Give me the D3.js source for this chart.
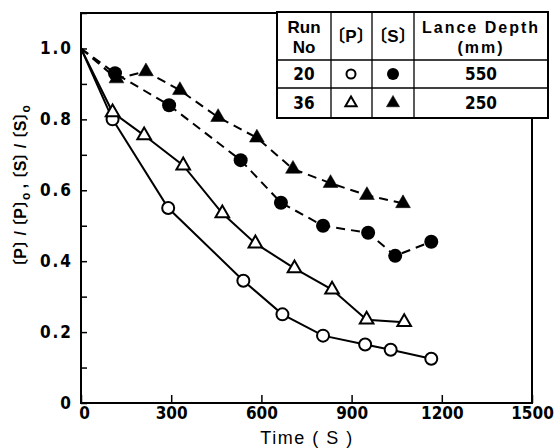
<!DOCTYPE html>
<html>
<head>
<meta charset="utf-8">
<script src="https://cdn.jsdelivr.net/npm/d3@7"></script>
<style>
  body { margin: 0; background: #fff; }
  svg text { fill: #000; }
  .br { font-family: "Noto Sans CJK JP", sans-serif; font-feature-settings: "halt" 1; }
</style>
</head>
<body>
<svg id="chart" width="555" height="448"></svg>
<script>
// time (s), relative concentration
var p20 = [[0, 1.0], [105, 0.80], [290, 0.55], [540, 0.345], [670, 0.25], [805, 0.19], [945, 0.165], [1030, 0.15], [1165, 0.125]]
var p36 = [[0, 1.0], [105, 0.82], [210, 0.755], [340, 0.67], [470, 0.535], [580, 0.45], [710, 0.38], [835, 0.32], [950, 0.235], [1075, 0.228]]
var s20 = [[0, 1.0], [113, 0.93], [293, 0.84], [531, 0.685], [665, 0.565], [805, 0.50], [955, 0.48], [1045, 0.415], [1165, 0.455]]
var s36 = [[0, 1.0], [118, 0.915], [216, 0.935], [329, 0.882], [456, 0.806], [585, 0.748], [705, 0.66], [830, 0.62], [951, 0.586], [1071, 0.563]]

var xTicks = [0, 300, 600, 900, 1200, 1500]
var yTicks = [0, 0.1, 0.2, 0.3, 0.4, 0.5, 0.6, 0.7, 0.8, 0.9, 1.0, 1.1]
var yLabels = { "0": "0", "0.2": "0.2", "0.4": "0.4", "0.6": "0.6", "0.8": "0.8", "1": "1.0" }

var runs = ["20", "36"]
var depths = ["550", "250"]

var svg = d3.select("#chart")
var numFont = '"Liberation Sans Narrow", "DejaVu Sans Condensed", "Liberation Sans", sans-serif'
var txtFont = '"Liberation Sans", Arial, sans-serif'

var x = d3.scaleLinear().domain([0, 1500]).range([81, 532])
var y = d3.scaleLinear().domain([0, 1.1]).range([403, 13])

// x axis, ticks point inward
var xAxis = svg.append("g")
    .attr("transform", "translate(0," + y(0) + ")")
    .call(d3.axisBottom(x).tickValues(xTicks).tickSize(-8).tickPadding(4).tickFormat(d3.format("d")))
xAxis.select(".domain").remove()
xAxis.selectAll("line").attr("stroke-width", 1.5)
xAxis.selectAll("text")
    .attr("dx", function(d) { return d == 0 ? 3 : 0 })
    .style("font-family", numFont)
    .style("font-weight", "bold")
    .style("font-size", "17px")

var yAxis = svg.append("g")
    .attr("transform", "translate(" + x(0) + ",0)")
    .call(d3.axisLeft(y).tickValues(yTicks).tickSize(-6).tickPadding(8)
        .tickFormat(function(d) { var k = String(+d.toFixed(1)); return yLabels[k] || "" }))
yAxis.select(".domain").remove()
yAxis.selectAll("line").attr("stroke-width", 1.5)
yAxis.selectAll("text")
    .style("font-family", numFont)
    .style("font-weight", "bold")
    .style("font-size", "17px")
    .style("letter-spacing", "2px")

// frame (top and right partly hidden by the table)
var frame = d3.path()
frame.moveTo(277, y(1.1)); frame.lineTo(x(0), y(1.1)); frame.lineTo(x(0), y(0)); frame.lineTo(x(1500), y(0)); frame.lineTo(x(1500), 118)
svg.append("path").attr("d", frame.toString()).attr("fill", "none").attr("stroke", "#000").attr("stroke-width", 2)

// lines
var line = d3.line().x(function(d) { return x(d[0]) }).y(function(d) { return y(d[1]) })
var series = [
    { data: p20, dash: null, shape: "circle", fill: "#fff" },
    { data: p36, dash: null, shape: "triangle", fill: "#fff" },
    { data: s20, dash: "9,6", shape: "circle", fill: "#000" },
    { data: s36, dash: "9,6", shape: "triangle", fill: "#000" }
]
series.forEach(function(s) {
    svg.append("path")
        .datum(s.data)
        .attr("d", line)
        .attr("fill", "none")
        .attr("stroke", "#000")
        .attr("stroke-width", 2)
        .attr("stroke-dasharray", s.dash)
})

function marker(g, shape, fill, big) {
    if (shape == "circle") {
        g.append("circle")
            .attr("r", fill == "#000" ? (big ? 7 : 6) : (big ? 6 : 4.5))
            .attr("fill", fill)
            .attr("stroke", "#000")
            .attr("stroke-width", fill == "#000" ? 0 : 2)
    } else {
        g.append("path")
            .attr("d", d3.symbol().type(d3.symbolTriangle).size(fill == "#000" ? (big ? 95 : 75) : (big ? 80 : 55)))
            .attr("fill", fill)
            .attr("stroke", "#000")
            .attr("stroke-width", fill == "#000" ? 0.5 : 2)
    }
}

series.forEach(function(s) {
    svg.selectAll(null)
        .data(s.data.slice(1))
        .enter().append("g")
        .attr("transform", function(d) { return "translate(" + x(d[0]) + "," + y(d[1]) + ")" })
        .each(function() { marker(d3.select(this), s.shape, s.fill, true) })
})

// axis titles
svg.append("text")
    .attr("x", 307).attr("y", 444)
    .attr("text-anchor", "middle")
    .style("font-family", txtFont)
    .style("font-size", "18px")
    .style("letter-spacing", "1.5px")
    .text("Time ( S )")

var yt = svg.append("text")
    .attr("transform", "translate(26,186) rotate(-90)")
    .attr("text-anchor", "middle")
    .style("font-family", txtFont)
    .style("font-size", "16px")
    .style("font-weight", "bold")
function bracket(t, letter) {
    t.append("tspan").attr("class", "br").text("〔")
    t.append("tspan").text(letter)
    t.append("tspan").attr("class", "br").text("〕")
}
bracket(yt, "P"); yt.append("tspan").text(" / "); bracket(yt, "P")
yt.append("tspan").attr("dy", 4).style("font-size", "12px").text("o")
yt.append("tspan").attr("dy", -4).text(" , ")
bracket(yt, "S"); yt.append("tspan").text(" / "); bracket(yt, "S")
yt.append("tspan").attr("dy", 4).style("font-size", "12px").text("o")

// table legend
var tbl = svg.append("g")
var cols = [277, 331, 372, 414, 548]
var rows = [12, 60, 88, 118]
tbl.append("rect").attr("x", cols[0]).attr("y", rows[0]).attr("width", cols[4] - cols[0]).attr("height", rows[3] - rows[0])
    .attr("fill", "#fff").attr("stroke", "#000").attr("stroke-width", 2)
cols.slice(1, 4).forEach(function(c) {
    tbl.append("line").attr("x1", c).attr("x2", c).attr("y1", rows[0]).attr("y2", rows[3]).attr("stroke", "#000").attr("stroke-width", 1.3)
})
rows.slice(1, 3).forEach(function(r) {
    tbl.append("line").attr("x1", cols[0]).attr("x2", cols[4]).attr("y1", r).attr("y2", r).attr("stroke", "#000").attr("stroke-width", 1.3)
})
function cell(cx, cy, txt, font, size, weight) {
    return tbl.append("text").attr("x", cx).attr("y", cy).attr("text-anchor", "middle")
        .style("font-family", font).style("font-size", size).style("font-weight", weight).text(txt)
}
cell(304, 33, "Run", txtFont, "17px", "bold")
cell(304, 53, "No", txtFont, "17px", "bold")
var hp = tbl.append("text").attr("x", 351).attr("y", 42).attr("text-anchor", "middle").style("font-family", txtFont).style("font-size", "17px").style("font-weight", "bold")
bracket(hp, "P")
var hs = tbl.append("text").attr("x", 393).attr("y", 42).attr("text-anchor", "middle").style("font-family", txtFont).style("font-size", "17px").style("font-weight", "bold")
bracket(hs, "S")
cell(481, 33, "Lance Depth", txtFont, "16px", "bold").style("letter-spacing", "2px")
cell(481, 53, "(mm)", txtFont, "16px", "bold").style("letter-spacing", "2px")
runs.forEach(function(r, i) {
    var cy = (rows[i + 1] + rows[i + 2]) / 2
    cell(304, cy + 6, r, numFont, "17px", "bold")
    cell(481, cy + 6, depths[i], numFont, "17px", "bold")
    var sh = i == 0 ? "circle" : "triangle"
    marker(tbl.append("g").attr("transform", "translate(351," + cy + ")"), sh, "#fff", false)
    marker(tbl.append("g").attr("transform", "translate(393," + cy + ")"), sh, "#000", false)
})
</script>
</body>
</html>
